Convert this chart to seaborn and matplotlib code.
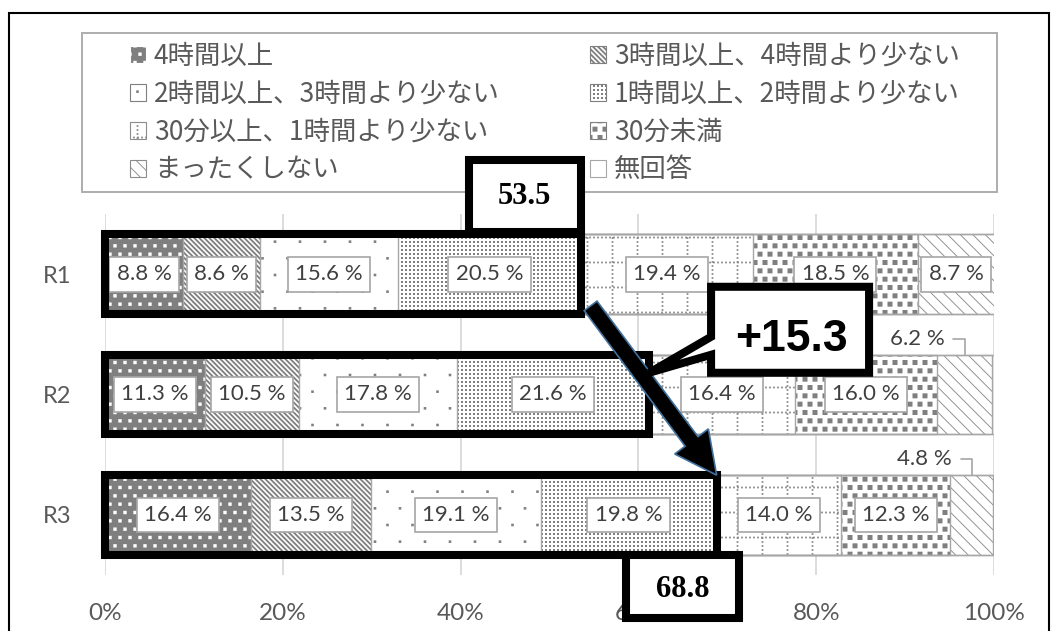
import numpy as np
import pandas as pd
import matplotlib
matplotlib.use("Agg")
import matplotlib.pyplot as plt
import matplotlib.hatch as mhatch
from matplotlib.path import Path
from matplotlib.patches import Rectangle, Patch, Polygon, FancyArrow
from matplotlib.transforms import IdentityTransform
import seaborn as sns

# ---- survey shares (percent) ----
years = ["R1", "R2", "R3"]
answer_labels = [
    "4時間以上",
    "3時間以上、4時間より少ない",
    "2時間以上、3時間より少ない",
    "1時間以上、2時間より少ない",
    "30分以上、1時間より少ない",
    "30分未満",
    "まったくしない",
    "無回答",
]
over_4h = [8.8, 11.3, 16.4]
h3_to_4 = [8.6, 10.5, 13.5]
h2_to_3 = [15.6, 17.8, 19.1]
h1_to_2 = [20.5, 21.6, 19.8]
m30_to_1h = [19.4, 16.4, 14.0]
under_30m = [18.5, 16.0, 12.3]
never = [8.7, 6.2, 4.8]
no_answer = [0.0, 0.2, 0.1]
x_ticks = [0, 20, 40, 60, 80, 100]
x_tick_labels = ["0%", "20%", "40%", "60%", "80%", "100%"]

# ---- monochrome fill patterns (one hatch tile = 1 inch) ----
_QUAD = np.array([Path.MOVETO, Path.LINETO, Path.LINETO, Path.LINETO,
                  Path.CLOSEPOLY], dtype=Path.code_type)


def _sq(cx, cy, s):
    h = s / 2
    return [(cx - h, cy - h), (cx + h, cy - h), (cx + h, cy + h),
            (cx - h, cy + h), (cx - h, cy - h)]


def dot_lattice(cols, rows, side, stagger):
    quads = []
    for j in range(-1, rows + 1):
        shift = 0.5 / cols if (stagger and j % 2) else 0.0
        for i in range(-1, cols + 1):
            quads.append(_sq((i + 0.5) / cols + shift, (j + 0.5) / rows, side))
    return quads


def diagonal_stripes(n, thick):
    quads = []
    for k in range(-2, 2 * n + 3):
        c = k / n
        quads.append([(-1, c + 1), (2, c - 2), (2, c - 2 + thick),
                      (-1, c + 1 + thick), (-1, c + 1)])
    return quads


def dotted_grid(lines, dots, side):
    quads = []
    for a in range(lines):
        p = (a + 0.5) / lines
        for b in range(dots):
            q = (b + 0.5) / dots
            quads.append(_sq(q, p, side))
            quads.append(_sq(p, q, side))
    return quads


def tile_hatch(key, quads):
    verts = np.asarray(quads, dtype=float).reshape(-1, 2)
    count = len(verts) // 5

    class TileHatch(mhatch.HatchPatternBase):
        def __init__(self, hatch, density):
            self.num_vertices = len(verts) if key in hatch else 0

        def set_vertices_and_codes(self, vertices, codes):
            vertices[:] = verts
            codes[:] = np.tile(_QUAD, count)

    return TileHatch


mhatch._hatch_types[:] = [
    tile_hatch("o", dot_lattice(10, 12, 0.034, True)),    # light dots on grey
    tile_hatch("\\", diagonal_stripes(20, 0.026)),        # wide diagonal stripes
    tile_hatch(".", dot_lattice(4, 6, 0.026, True)),      # sparse dots
    tile_hatch("O", dot_lattice(25, 25, 0.02, False)),    # fine dots
    tile_hatch("+", dotted_grid(4, 25, 0.018)),           # dotted grid
    tile_hatch("*", dot_lattice(10, 12, 0.05, True)),     # checker squares
    tile_hatch("x", diagonal_stripes(8, 0.013)),          # thin diagonals
]

GRAY = "#7F7F7F"
styles = [
    dict(face=GRAY, ink="white", hatch="o"),
    dict(face="white", ink=GRAY, hatch="\\"),
    dict(face="white", ink=GRAY, hatch="."),
    dict(face="white", ink=GRAY, hatch="O"),
    dict(face="white", ink="#8C8C8C", hatch="+"),
    dict(face="white", ink=GRAY, hatch="*"),
    dict(face="white", ink="#8C8C8C", hatch="x"),
    dict(face="white", ink="#A6A6A6", hatch=None),
]

sns.set_style("white")
plt.rcParams["font.family"] = ["Lato", "Noto Sans CJK JP", "DejaVu Sans"]
plt.rcParams["hatch.linewidth"] = 0.0

W, H = 1051, 631
fig = plt.figure(figsize=(W / 100, H / 100), dpi=100)
fig.patch.set_facecolor("white")
ax = fig.add_axes([105 / W, 56 / H, 889 / W, 361 / H])

series = [over_4h, h3_to_4, h2_to_3, h1_to_2, m30_to_1h, under_30m, never, no_answer]
values = np.array(series, dtype=float)
cum = values.cumsum(axis=0)
left = cum - values
BAR = 0.66

# patterned segments: cumulative bars drawn longest first, each masking the previous
for k in range(len(series) - 1, -1, -1):
    n0 = len(ax.patches)
    frame = pd.DataFrame({"year": years, "share": cum[k]})
    sns.barplot(data=frame, x="share", y="year", orient="h", width=BAR,
                errorbar=None, saturation=1, ax=ax)
    st = styles[k]
    for p in ax.patches[n0:]:
        p.set_facecolor(st["face"])
        p.set_edgecolor(st["ink"])
        p.set_hatch(st["hatch"])
        p.set_linewidth(0)
        p.set_zorder(2)

# thin grey segment borders
for k in range(len(series)):
    n0 = len(ax.patches)
    frame = pd.DataFrame({"year": years, "share": cum[k]})
    sns.barplot(data=frame, x="share", y="year", orient="h", width=BAR,
                errorbar=None, saturation=1, ax=ax)
    for p in ax.patches[n0:]:
        p.set_facecolor("none")
        p.set_edgecolor("#A6A6A6")
        p.set_hatch(None)
        p.set_linewidth(1.0)
        p.set_zorder(3)

ax.set_xlim(0, 100)
ax.set_xticks(x_ticks)
ax.set_xticklabels(x_tick_labels)
ax.set_xlabel("")
ax.set_ylabel("")
ax.grid(True, axis="x", color="#D9D9D9", lw=1.3)
ax.grid(False, axis="y")
ax.set_axisbelow(True)
for s in ax.spines.values():
    s.set_visible(False)
ax.tick_params(axis="x", length=0, pad=20, labelsize=17.5, labelcolor="#595959")
ax.tick_params(axis="y", length=0, pad=24, labelsize=17, labelcolor="#595959")

# value labels
for i in range(len(years)):
    for k in range(len(series) - 1):
        v = values[k, i]
        cx = left[k, i] + v / 2
        if v >= 7:
            ax.text(cx, i, f"{v:.1f} %", ha="center", va="center", fontsize=16,
                    color="#404040", zorder=4,
                    bbox=dict(boxstyle="square,pad=0.33", fc="white",
                              ec="#A6A6A6", lw=1.2))
        else:
            ax.annotate(f"{v:.1f} %", xy=(cx, i - BAR / 2), xytext=(-20, 16),
                        textcoords="offset pixels", ha="right", va="center",
                        fontsize=16, color="#404040", zorder=4,
                        arrowprops=dict(arrowstyle="-", color="#A6A6A6", lw=1.2,
                                        relpos=(1, 0.5), shrinkA=4, shrinkB=0,
                                        connectionstyle="angle,angleA=0,angleB=90,rad=0"))

# outline of the "1 hour or more" share in each year
cum4 = cum[3]
for i in range(len(years)):
    ax.add_patch(Rectangle((0, i - BAR / 2), cum4[i], BAR, fill=False,
                           ec="black", lw=5.8, zorder=5, clip_on=False,
                           joinstyle="miter"))

ident = IdentityTransform()


def px(x, y):
    return ax.transData.transform((x, y))


# box above R1 outline
rx, ry = px(cum4[0], 0 - BAR / 2)
fig.add_artist(Rectangle((rx - 112, ry + 2), 112, 72, transform=ident,
                         fc="white", ec="black", lw=5.8, zorder=6,
                         joinstyle="miter"))
fig.text(rx - 56, ry + 38, f"{cum4[0]:.1f}", transform=ident, ha="center",
         va="center", fontsize=22, fontweight="bold",
         family="Liberation Serif", color="black", zorder=7)

# box below R3 outline
bx, by = px(cum4[2], 2 + BAR / 2)
fig.add_artist(Rectangle((bx - 91, by - 63), 113, 63, transform=ident,
                         fc="white", ec="black", lw=5.8, zorder=6,
                         joinstyle="miter"))
fig.text(bx - 34, by - 35, f"{cum4[2]:.1f}", transform=ident, ha="center",
         va="center", fontsize=22, fontweight="bold",
         family="Liberation Serif", color="black", zorder=7)

# arrow from R1 to R3
tx, ty = px(cum4[0], 0 + BAR / 2)
hx, hy = px(cum4[2], 2 - BAR / 2)
tx, ty = tx + 10, ty + 8
fig.add_artist(FancyArrow(tx, ty, hx - tx, hy - ty, width=16, head_width=42,
                          head_length=42, length_includes_head=True,
                          fc="black", ec="#41719C", lw=1.2, transform=ident,
                          zorder=6))

# callout with the change between R1 and R3
cx2, cy2 = px(cum4[1], 1 - BAR / 2)
tip = (cx2, cy2 - 18)
outline = [(62, -86), (220, -86), (220, 0), (62, 0), (62, -18), (0, 0), (62, -36)]
fig.add_artist(Polygon([(tip[0] + dx, tip[1] - dy) for dx, dy in outline],
                       closed=True, transform=ident, fc="white", ec="black",
                       lw=5.8, zorder=7, joinstyle="miter"))
fig.text(tip[0] + 142, tip[1] + 33, f"+{cum4[2] - cum4[0]:.1f}", transform=ident,
         ha="center", va="center", fontsize=32, fontweight="bold",
         family="Liberation Sans", color="black", zorder=8)

# legend with its frame
fig.add_artist(Rectangle((82 / W, 1 - 192 / H), (997 - 82) / W, (192 - 33) / H,
                         transform=fig.transFigure, fill=False, ec="#ADADAD",
                         lw=1.4, zorder=4))
handles = [Patch(facecolor=s["face"], edgecolor=s["ink"], hatch=s["hatch"],
                 linewidth=0.8) for s in styles]
order = [0, 2, 4, 6, 1, 3, 5, 7]
fig.legend([handles[j] for j in order], [answer_labels[j] for j in order],
           ncol=2, loc="upper left", bbox_to_anchor=(130 / W, 1 - 43 / H, 830 / W, 0),
           mode="expand", frameon=False, borderpad=0, borderaxespad=0,
           handlelength=0.6, handleheight=0.6, handletextpad=0.3,
           labelspacing=0.41, prop=dict(family=["Noto Sans CJK JP"], size=19),
           labelcolor="#595959")

# outer chart border
fig.add_artist(Rectangle((9 / W, -0.1), (1049 - 9) / W, (H - 13) / H + 0.1,
                         transform=fig.transFigure, fill=False, ec="black",
                         lw=1.5, zorder=10))

fig.savefig("out.png", dpi=100, facecolor="white")
